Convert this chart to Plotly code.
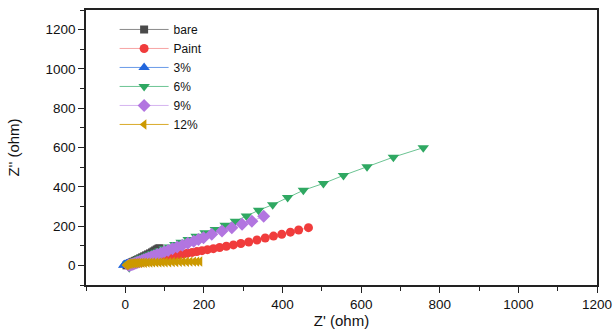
import plotly.graph_objects as go

# ---- data ----
bare_x = [3, 5, 7, 9, 12, 15, 18, 21, 25, 29, 33, 38, 43, 48, 53, 58, 63, 68, 72, 76, 80, 84, 87]
bare_y = [0, 3, 5, 7, 10, 13, 16, 19, 23, 27, 31, 36, 41, 46, 51, 56, 61, 66, 71, 76, 81, 85, 87]

paint_x = [7, 9, 12, 15, 18, 21, 25, 29, 33, 37, 41, 46, 51, 56, 62, 68, 74, 80, 87, 94, 102, 110,
           118, 127, 137, 147, 158, 170, 182, 195, 209, 224, 240, 257, 275, 294, 314, 335, 356,
           377, 398, 420, 441, 466]
paint_y = [0, 1, 2, 3, 5, 6, 8, 10, 12, 14, 16, 18, 20, 22, 25, 27, 30, 32, 35, 38, 41, 44,
           47, 50, 54, 58, 62, 66, 70, 75, 80, 85, 91, 97, 104, 111, 119, 129, 139,
           149, 158, 169, 180, 192]

p3_x = [-4, -3, -1, 1, 3, 5, 8, 11, 14, 18, 22, 26, 30]
p3_y = [0, 2, 4, 5, 7, 8, 9, 10, 11, 12, 13, 14, 15]

p6_x = [10, 9, 8, 9, 10, 12, 14, 16, 19, 22, 25, 29, 33, 37, 42, 48, 54, 61, 69, 78,
        88, 99, 112, 126, 142, 160, 180, 203, 229, 254, 280, 308, 339, 375, 413, 453,
        504, 555, 615, 682, 758]
p6_y = [-12, -6, -1, 3, 6, 8, 10, 12, 15, 18, 21, 24, 28, 32, 37, 41, 47, 53, 59, 67,
        75, 84, 94, 106, 118, 132, 148, 166, 183, 204, 225, 251, 280, 309, 345, 382,
        417, 458, 502, 551, 599]

p9_x = [8, 11, 14, 17, 20, 24, 28, 32, 37, 42, 47, 53, 59, 66, 73, 81, 90, 99, 109, 120,
        132, 145, 159, 174, 186, 199, 220, 246, 271, 297, 322, 352]
p9_y = [0, 1, 3, 5, 7, 10, 13, 16, 20, 24, 28, 33, 38, 43, 49, 55, 62, 69, 76, 84,
        93, 102, 112, 123, 132, 141, 158, 175, 192, 209, 225, 250]

p12_x = [2, 3, 5, 7, 10, 13, 17, 21, 26, 31, 37, 43, 49, 56, 63, 70, 78, 86, 94, 102,
         111, 120, 129, 138, 147, 156, 165, 174, 182, 190]
p12_y = [0, 3, 5, 7, 8, 9, 10, 11, 11, 12, 12, 13, 13, 14, 14, 15, 15, 15, 16, 16,
         16, 17, 17, 18, 18, 18, 19, 19, 19, 20]

series = [
    ("bare", bare_x, bare_y, "square", 8, "#4a4a4a", "#8a8a8a"),
    ("Paint", paint_x, paint_y, "circle", 9, "#f03c3c", "#f7a3a3"),
    ("3%", p3_x, p3_y, "triangle-up", 10, "#2266dd", "#6a9be8"),
    ("6%", p6_x, p6_y, "triangle-down", 10, "#2fa862", "#6cc493"),
    ("9%", p9_x, p9_y, "diamond", 10, "#b275e0", "#d5b4f0"),
    ("12%", p12_x, p12_y, "triangle-left", 9, "#cc9900", "#d9ab2a"),
]

FONT = "Liberation Sans, Arial, sans-serif"

fig = go.Figure()
for name, xs, ys, sym, sz, mcol, lcol in series:
    fig.add_trace(go.Scatter(
        x=xs, y=ys, name=name, mode="lines+markers",
        line=dict(color=lcol, width=1),
        marker=dict(symbol=sym, size=sz, color=mcol, line=dict(width=0)),
    ))

axis_common = dict(
    showgrid=False, zeroline=False, showline=True, linecolor="#222222", linewidth=1.5,
    mirror=True, ticks="outside", ticklen=6, tickwidth=1, tickcolor="#222222",
    tickfont=dict(family=FONT, size=13.5, color="#111111"),
    minor=dict(ticks="outside", ticklen=4, tickwidth=1, tickcolor="#222222", dtick=100),
    automargin=False,
)

fig.update_layout(
    width=616, height=329,
    margin=dict(l=86, r=19, t=10, b=44),
    paper_bgcolor="white", plot_bgcolor="white",
    showlegend=True,
    legend=dict(
        x=0.056, y=0.982, xanchor="left", yanchor="top",
        bgcolor="rgba(0,0,0,0)", borderwidth=0,
        font=dict(family=FONT, size=12, color="#111111"),
        itemwidth=49, tracegroupgap=0,
    ),
    xaxis=dict(range=[-100, 1200], tickmode="linear", tick0=0, dtick=200,
               title=dict(text="Z' (ohm)", standoff=8,
                          font=dict(family=FONT, size=15, color="#111111")),
               **axis_common),
    yaxis=dict(range=[-100, 1300], tickmode="array",
               tickvals=[0, 200, 400, 600, 800, 1000, 1200],
               title=dict(text="Z'' (ohm)", standoff=22,
                          font=dict(family=FONT, size=15, color="#111111")),
               **axis_common),
)

fig.write_html("out.html")
